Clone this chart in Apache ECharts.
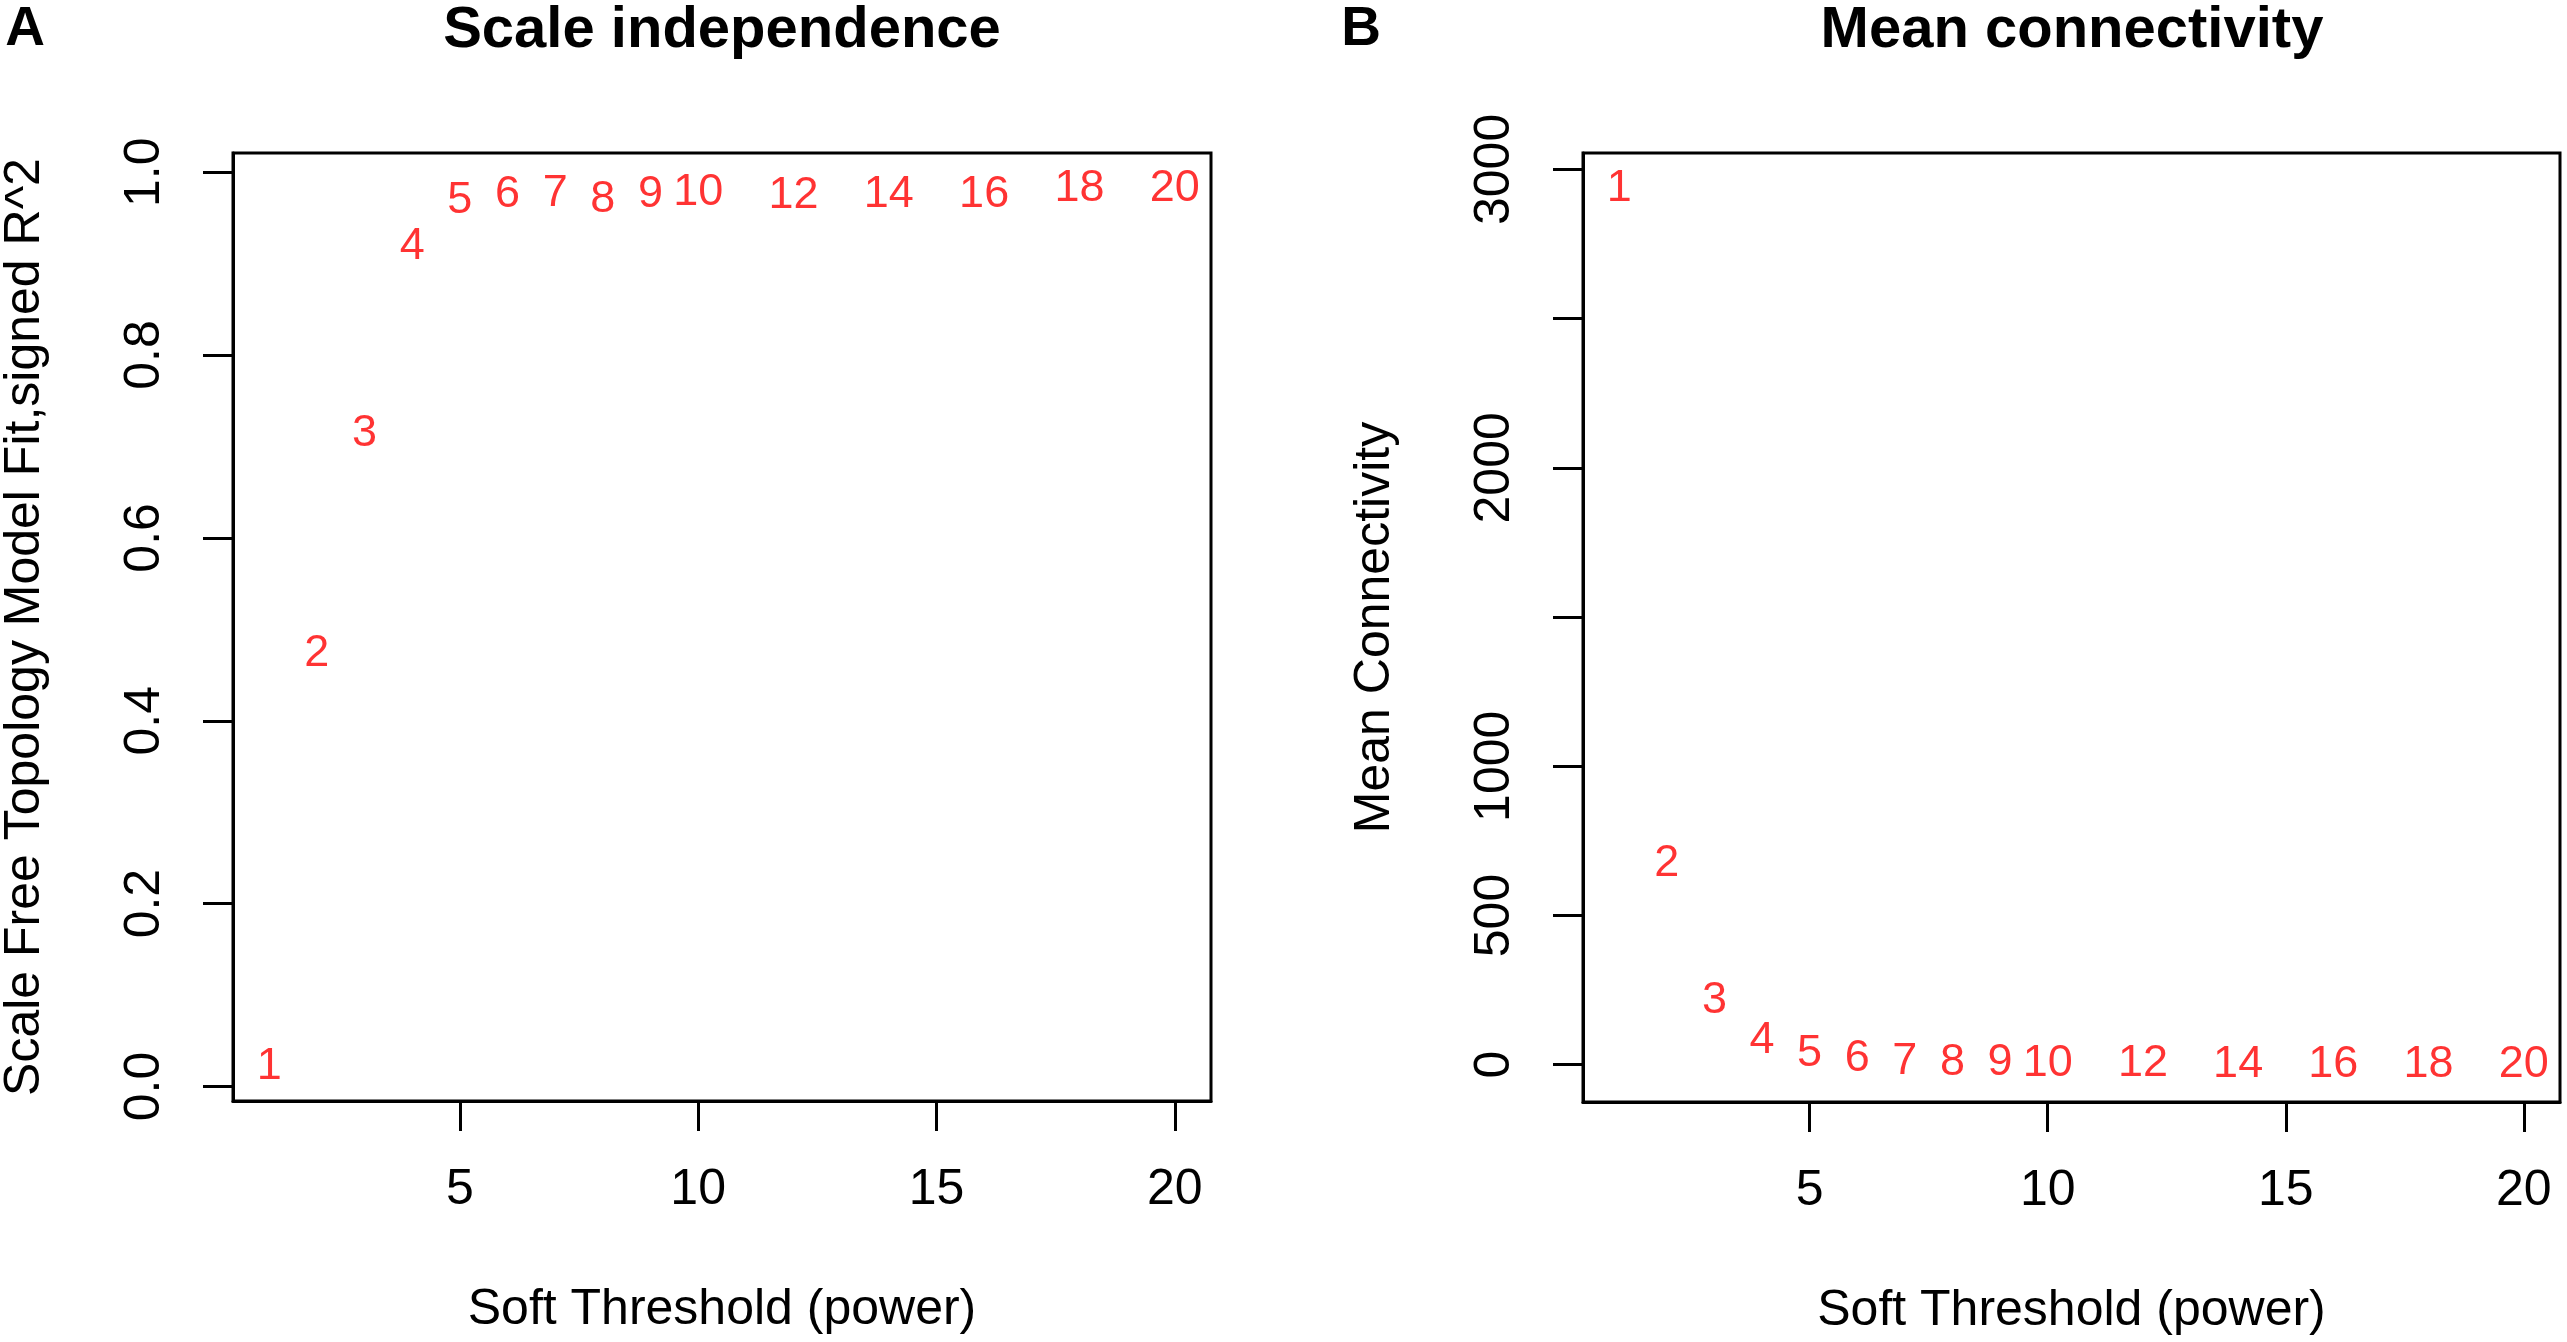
<!DOCTYPE html>
<html>
<head>
<meta charset="utf-8">
<script src="https://cdn.jsdelivr.net/npm/echarts@6.0.0/dist/echarts.min.js"></script>
<style>
  html, body { margin: 0; padding: 0; background: #fff; }
  #chart { width: 2567px; height: 1342px; }
</style>
</head>
<body>
<div id="chart"></div>
<script>
// soft-thresholding powers and the two WGCNA curves
var powers = [1, 2, 3, 4, 5, 6, 7, 8, 9, 10, 12, 14, 16, 18, 20];
var fitR2 = [0.022, 0.474, 0.714, 0.919, 0.969, 0.976, 0.977, 0.970, 0.975, 0.978, 0.974, 0.975, 0.976, 0.982, 0.982];
var meanK = [2936, 673, 215, 82, 38, 20, 12, 8, 6, 4, 2.5, 1.7, 1.2, 0.9, 0.7];

var xTicks = [5, 10, 15, 20];
var r2Ticks = [0, 0.2, 0.4, 0.6, 0.8, 1.0];
var kTicks = [0, 500, 1000, 1500, 2000, 2500, 3000];
var kLabels = [0, 500, 1000, 2000, 3000];

var font = 'Liberation Sans, Arial, Helvetica, sans-serif';

function xAxisFor(index) {
  return {
    type: 'value',
    gridIndex: index,
    min: 0.24,
    max: 20.76,
    name: 'Soft Threshold (power)',
    nameLocation: 'middle',
    nameGap: 184,
    nameTextStyle: { fontSize: 50, color: '#000', fontFamily: font },
    axisLine: { show: true, onZero: false, lineStyle: { color: '#000', width: 3 } },
    axisTick: { show: true, length: 30, customValues: xTicks, lineStyle: { color: '#000', width: 3 } },
    axisLabel: { customValues: xTicks, fontSize: 50, margin: 64, color: '#000', fontFamily: font },
    splitLine: { show: false }
  };
}

function pointSeries(values, axisIndex) {
  return {
    type: 'scatter',
    xAxisIndex: axisIndex,
    yAxisIndex: axisIndex,
    silent: true,
    symbolSize: 1,
    itemStyle: { color: 'rgba(0,0,0,0)' },
    label: {
      show: true,
      position: 'inside',
      formatter: function (p) { return p.value[0]; },
      color: '#ff0000',
      fontSize: 45,
      fontFamily: font
    },
    data: powers.map(function (p, i) { return [p, values[i]]; })
  };
}

var chart = echarts.init(document.getElementById('chart'));
var option = {
  backgroundColor: '#fff',
  animation: false,
  graphic: [
    { type: 'text', x: 25, y: 30, style: { text: 'A', fontSize: 55, fontWeight: 'bold', fontFamily: font, fill: '#000', align: 'center', verticalAlign: 'middle' } },
    { type: 'text', x: 1361, y: 30, style: { text: 'B', fontSize: 55, fontWeight: 'bold', fontFamily: font, fill: '#000', align: 'center', verticalAlign: 'middle' } },
    { type: 'text', x: 722, y: 31, style: { text: 'Scale independence', fontSize: 58, fontWeight: 'bold', fontFamily: font, fill: '#000', align: 'center', verticalAlign: 'middle' } },
    { type: 'text', x: 2072, y: 31, style: { text: 'Mean connectivity', fontSize: 58, fontWeight: 'bold', fontFamily: font, fill: '#000', align: 'center', verticalAlign: 'middle' } }
  ],
  grid: [
    { left: 233, top: 153, width: 978, height: 948, show: true, borderColor: '#000', borderWidth: 3, outerBoundsMode: 'none' },
    { left: 1583, top: 153, width: 977, height: 949, show: true, borderColor: '#000', borderWidth: 3, outerBoundsMode: 'none' }
  ],
  xAxis: [xAxisFor(0), xAxisFor(1)],
  yAxis: [
    {
      type: 'value',
      gridIndex: 0,
      min: -0.0159,
      max: 1.021,
      name: 'Scale Free Topology Model Fit,signed R^2',
      nameLocation: 'middle',
      nameGap: 183,
      nameTextStyle: { fontSize: 50, color: '#000', fontFamily: font },
      axisLine: { show: true, onZero: false, lineStyle: { color: '#000', width: 3 } },
      axisTick: { show: true, length: 30, customValues: r2Ticks, lineStyle: { color: '#000', width: 3 } },
      axisLabel: {
        customValues: r2Ticks,
        rotate: 90,
        fontSize: 50,
        margin: 63,
        color: '#000',
        fontFamily: font,
        formatter: function (v) { return v.toFixed(1); }
      },
      splitLine: { show: false }
    },
    {
      type: 'value',
      gridIndex: 1,
      min: -125,
      max: 3055,
      name: 'Mean Connectivity',
      nameLocation: 'middle',
      nameGap: 183,
      nameTextStyle: { fontSize: 50, color: '#000', fontFamily: font },
      axisLine: { show: true, onZero: false, lineStyle: { color: '#000', width: 3 } },
      axisTick: { show: true, length: 30, customValues: kTicks, lineStyle: { color: '#000', width: 3 } },
      axisLabel: {
        customValues: kLabels,
        rotate: 90,
        fontSize: 50,
        margin: 63,
        color: '#000',
        fontFamily: font,
        formatter: function (v) { return String(v); }
      },
      splitLine: { show: false }
    }
  ],
  series: [pointSeries(fitR2, 0), pointSeries(meanK, 1)]
};
chart.setOption(option);
</script>
</body>
</html>
